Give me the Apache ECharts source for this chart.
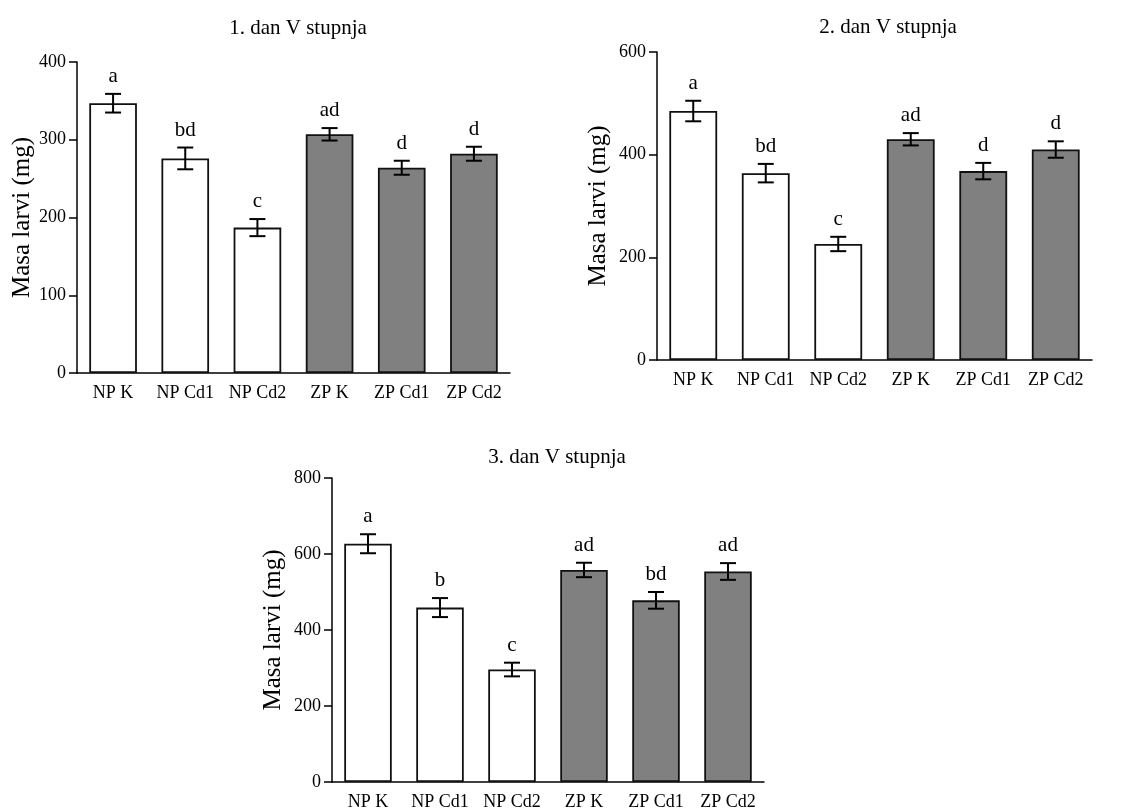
<!DOCTYPE html>
<html lang="en" style="height: 100%">
<head>
  <meta charset="utf-8">
</head>
<body style="height: 100%; margin: 0; background: #fff">
  <div id="container" style="height: 100%"></div>

  <script type="text/javascript" src="https://cdn.jsdelivr.net/npm/echarts@6/dist/echarts.min.js"></script>
  <script type="text/javascript">
// groups
var categories = ['NP K', 'NP Cd1', 'NP Cd2', 'ZP K', 'ZP Cd1', 'ZP Cd2'];

// 1. dan
var day1Mean = [347, 276, 187, 307, 264, 282];
var day1Err = [12, 14, 11, 8, 9, 9];
var day1Letters = ['a', 'bd', 'c', 'ad', 'd', 'd'];

// 2. dan
var day2Mean = [485, 364, 226, 430, 368, 410];
var day2Err = [20, 18, 14, 12, 16, 16];
var day2Letters = ['a', 'bd', 'c', 'ad', 'd', 'd'];

// 3. dan
var day3Mean = [627, 459, 296, 558, 478, 554];
var day3Err = [25, 25, 18, 19, 22, 22];
var day3Letters = ['a', 'b', 'c', 'ad', 'bd', 'ad'];

var titles = ['1. dan V stupnja', '2. dan V stupnja', '3. dan V stupnja'];
var yMax = [400, 600, 800];
var yStep = [100, 200, 200];

var dom = document.getElementById('container');
var myChart = echarts.init(dom, null, { renderer: 'canvas' });

var FONT = '"Liberation Serif", "Times New Roman", serif';
var grids = [
  { left: 77, top: 62, width: 433, height: 311 },
  { left: 657, top: 52, width: 435, height: 308 },
  { left: 332, top: 478, width: 432, height: 306 }
];
var nameGaps = [42, 46, 46];
var titleCenters = [[298, 28], [888, 27], [557, 457]];

var means = [day1Mean, day2Mean, day3Mean];
var errs = [day1Err, day2Err, day3Err];
var letters = [day1Letters, day2Letters, day3Letters];

var xAxes = [], yAxes = [], series = [], graphics = [];

for (var k = 0; k < 3; k++) {
  xAxes.push({
    type: 'category',
    gridIndex: k,
    data: categories,
    axisLine: { lineStyle: { color: '#000', width: 1.5 } },
    axisTick: { show: false },
    axisLabel: { color: '#000', fontFamily: FONT, fontSize: 18, margin: 11, interval: 0 }
  });
  yAxes.push({
    type: 'value',
    gridIndex: k,
    min: 0,
    max: yMax[k],
    interval: yStep[k],
    name: 'Masa larvi (mg)',
    nameLocation: 'middle',
    nameGap: nameGaps[k],
    nameTextStyle: { color: '#000', fontFamily: FONT, fontSize: 25 },
    axisLine: { show: true, lineStyle: { color: '#000', width: 1.5 } },
    axisTick: { show: true, length: 8, lineStyle: { color: '#000', width: 1.5 } },
    axisLabel: { color: '#000', fontFamily: FONT, fontSize: 18, margin: 11 },
    splitLine: { show: false }
  });

  series.push({
    type: 'bar',
    xAxisIndex: k,
    yAxisIndex: k,
    barWidth: '66%',
    data: means[k].map(function (v, i) {
      return {
        value: v,
        itemStyle: { color: i < 3 ? '#ffffff' : '#808080' }
      };
    }),
    itemStyle: { borderColor: '#111', borderWidth: 1.8 },
    silent: true
  });

  (function (m, e, l, idx) {
    series.push({
      type: 'custom',
      xAxisIndex: idx,
      yAxisIndex: idx,
      data: m.map(function (v, i) { return [i, v, e[i]]; }),
      encode: { x: 0, y: 1 },
      z: 10,
      silent: true,
      renderItem: function (params, api) {
        var i = api.value(0);
        var mean = api.value(1);
        var err = api.value(2);
        var top = api.coord([i, mean + err]);
        var bot = api.coord([i, mean - err]);
        var hw = 8;
        var st = { stroke: '#000', lineWidth: 2 };
        return {
          type: 'group',
          children: [
            { type: 'line', shape: { x1: top[0], y1: top[1], x2: bot[0], y2: bot[1] }, style: st },
            { type: 'line', shape: { x1: top[0] - hw, y1: top[1], x2: top[0] + hw, y2: top[1] }, style: st },
            { type: 'line', shape: { x1: bot[0] - hw, y1: bot[1], x2: bot[0] + hw, y2: bot[1] }, style: st },
            {
              type: 'text',
              style: {
                x: top[0], y: top[1] - 7,
                text: l[i],
                fill: '#000',
                font: '21px ' + FONT,
                textAlign: 'center',
                textVerticalAlign: 'bottom'
              }
            }
          ]
        };
      }
    });
  })(means[k], errs[k], letters[k], k);

  graphics.push({
    type: 'text',
    x: titleCenters[k][0],
    y: titleCenters[k][1],
    style: {
      text: titles[k],
      fill: '#000',
      font: '21px ' + FONT,
      textAlign: 'center',
      textVerticalAlign: 'middle'
    }
  });
}

var option = {
  backgroundColor: '#fff',
  animation: false,
  grid: grids,
  xAxis: xAxes,
  yAxis: yAxes,
  series: series,
  graphic: graphics
};

myChart.setOption(option);
window.addEventListener('resize', myChart.resize);
  </script>
</body>
</html>
